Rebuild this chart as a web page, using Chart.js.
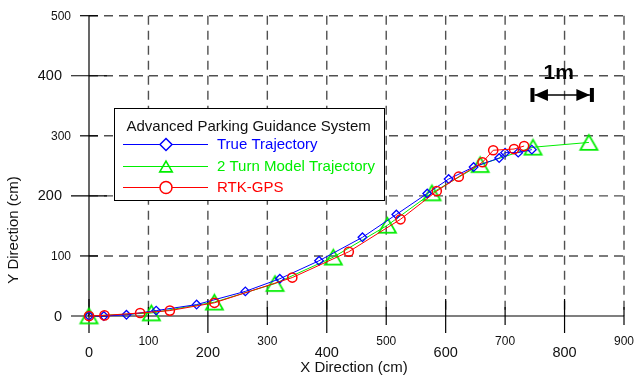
<!DOCTYPE html>
<html>
<head>
<meta charset="utf-8">
<style>
  html, body { margin: 0; padding: 0; background: #ffffff; }
  #wrap { width: 634px; height: 378px; position: relative; }
</style>
<script src="https://cdn.jsdelivr.net/npm/chart.js@4.4.1/dist/chart.umd.min.js"></script>
</head>
<body>
<div id="wrap"><canvas id="c" width="634" height="378"></canvas></div>
<script>
// Measured trajectories, X / Y in centimetres
const trueX  = [0, 25, 63, 113, 181, 263, 321, 387, 460, 517, 569, 605, 647, 690, 700, 722, 745];
const trueY  = [0, 0, 2, 9, 19, 41, 62, 92, 131, 169, 204, 228, 248, 263, 272, 272, 277];
const modelX = [0, 105, 211, 313, 411, 502, 577, 658, 747, 841];
const modelY = [0, 5, 23, 54, 98, 151, 205, 252, 281, 289];
const rtkX   = [0, 26, 86, 136, 211, 342, 437, 524, 585, 622, 662, 680, 715, 732];
const rtkY   = [0, 1, 5, 9, 22, 64, 107, 161, 208, 232, 256, 276, 278, 283];

const seriesNames = ['True Trajectory', '2 Turn Model Trajectory', 'RTK-GPS'];
const legendTitle = 'Advanced Parking Guidance System';

// Axis ticks: every 100 cm, labels at 200 cm steps are the major ones
const xTicks = [0, 100, 200, 300, 400, 500, 600, 700, 800, 900];
const xTickLabels = ['0', '100', '200', '300', '400', '500', '600', '700', '800', '900'];
const yTicks = [0, 100, 200, 300, 400, 500];
const yTickLabels = ['0', '100', '200', '300', '400', '500'];
const xTitle = 'X Direction (cm)';
const yTitle = 'Y Direction (cm)';

// 1 m scale bar
const scaleBarStart = 746;
const scaleBarLength = 100;
const scaleBarY = 368;
const scaleBarLabel = '1m';

const FONT = '"Liberation Sans", Arial, Helvetica, sans-serif';
const BLUE = '#0000ff', GREEN = '#00ee00', RED = '#ff0000';

const zip = (xs, ys) => xs.map((x, i) => ({ x: x, y: ys[i] }));

function triangleImage(side, lw, color) {
  const h = side * Math.sqrt(3) / 2;
  const c = document.createElement('canvas');
  c.width = Math.ceil(side + lw * 2 + 2);
  c.height = Math.ceil(h + lw * 2 + 2);
  const g = c.getContext('2d');
  const cx = c.width / 2, cy = c.height / 2;
  g.beginPath();
  g.moveTo(cx, cy - h / 2);
  g.lineTo(cx + side / 2, cy + h / 2);
  g.lineTo(cx - side / 2, cy + h / 2);
  g.closePath();
  g.strokeStyle = color;
  g.lineWidth = lw;
  g.stroke();
  return c;
}

const plotTriangle = triangleImage(17, 1.8, GREEN);
const legendTriangle = triangleImage(12.5, 1.6, GREEN);

function seg(ctx, x1, y1, x2, y2) {
  ctx.beginPath();
  ctx.moveTo(x1, y1);
  ctx.lineTo(x2, y2);
  ctx.stroke();
}

const axesPlugin = {
  id: 'axesAndLegend',
  beforeDatasetsDraw(chart) {
    const { ctx, chartArea: a, scales: { x, y } } = chart;
    const x0 = x.getPixelForValue(0);
    const y0 = y.getPixelForValue(0);
    ctx.save();

    // dashed grid
    ctx.strokeStyle = '#505050';
    ctx.lineWidth = 1.4;
    ctx.setLineDash([9, 6]);
    xTicks.forEach(v => {
      if (v === 0) return;
      const px = x.getPixelForValue(v);
      seg(ctx, px, a.top, px, a.bottom);
    });
    yTicks.forEach(v => {
      if (v === 0) return;
      const py = y.getPixelForValue(v);
      seg(ctx, a.left, py, a.right, py);
    });
    ctx.setLineDash([]);

    // axis lines and tick marks
    ctx.strokeStyle = '#000';
    ctx.lineWidth = 1.2;
    seg(ctx, x0, a.top, x0, y0);
    seg(ctx, x0, y0, a.right, y0);
    xTicks.forEach(v => {
      const px = x.getPixelForValue(v);
      const len = v % 200 === 0 ? 17 : 9;
      seg(ctx, px, y0 - len, px, y0 + len);
    });
    yTicks.forEach(v => {
      const py = y.getPixelForValue(v);
      const len = v % 200 === 0 ? 18 : 9;
      seg(ctx, x0 - len, py, x0 + len, py);
    });

    // tick labels
    ctx.fillStyle = '#111';
    ctx.textBaseline = 'middle';
    ctx.textAlign = 'center';
    xTicks.forEach((v, i) => {
      const px = x.getPixelForValue(v);
      const major = v % 200 === 0;
      ctx.font = (major ? 14.5 : 12) + 'px ' + FONT;
      ctx.fillText(xTickLabels[i], px, major ? 352.5 : 342);
    });
    ctx.textAlign = 'right';
    yTicks.forEach((v, i) => {
      const py = y.getPixelForValue(v);
      const major = v % 200 === 0;
      ctx.font = (major ? 14.5 : 12) + 'px ' + FONT;
      ctx.fillText(yTickLabels[i], major ? 62 : 71, py + 0.5);
    });

    // axis titles
    ctx.font = '15px ' + FONT;
    ctx.textAlign = 'center';
    ctx.fillText(xTitle, 354, 367.5);
    ctx.save();
    ctx.translate(14, 230);
    ctx.rotate(-Math.PI / 2);
    ctx.fillText(yTitle, 0, 0);
    ctx.restore();

    // legend box
    const bx = 114.5, by = 108.5, bw = 270, bh = 92;
    ctx.fillStyle = '#fff';
    ctx.fillRect(bx, by, bw, bh);
    ctx.strokeStyle = '#000';
    ctx.lineWidth = 1;
    ctx.strokeRect(bx, by, bw, bh);
    ctx.fillStyle = '#111';
    ctx.textAlign = 'left';
    ctx.font = '15px ' + FONT;
    ctx.fillText(legendTitle, 126.5, 126.5);

    const rows = [144.5, 166.5, 187.5];
    const colors = [BLUE, GREEN, RED];
    rows.forEach((ry, i) => {
      ctx.strokeStyle = colors[i];
      ctx.lineWidth = 1;
      seg(ctx, 123, ry, 208, ry);
      ctx.lineWidth = 1.5;
      if (i === 0) {
        const r = 6;
        ctx.fillStyle = '#fff';
        ctx.beginPath();
        ctx.moveTo(166, ry - r); ctx.lineTo(166 + r, ry);
        ctx.lineTo(166, ry + r); ctx.lineTo(166 - r, ry);
        ctx.closePath();
        ctx.fill(); ctx.stroke();
      } else if (i === 1) {
        ctx.fillStyle = '#fff';
        ctx.drawImage(legendTriangle, 166 - legendTriangle.width / 2, ry - legendTriangle.height / 2);
      } else {
        ctx.fillStyle = '#fff';
        ctx.beginPath();
        ctx.arc(166, ry, 6, 0, Math.PI * 2);
        ctx.fill(); ctx.stroke();
      }
      ctx.fillStyle = colors[i];
      ctx.font = '15px ' + FONT;
      ctx.fillText(seriesNames[i], 217, ry + 0.5);
    });

    ctx.restore();
  },
  afterDraw(chart) {
    const { ctx, scales: { x, y } } = chart;
    const x1 = x.getPixelForValue(scaleBarStart);
    const x2 = x.getPixelForValue(scaleBarStart + scaleBarLength);
    const yc = y.getPixelForValue(scaleBarY);
    ctx.save();
    ctx.fillStyle = '#000';
    ctx.strokeStyle = '#000';
    // end bars
    ctx.fillRect(x1 - 2, yc - 7, 4, 14);
    ctx.fillRect(x2 - 2, yc - 7, 4, 14);
    // shaft
    ctx.lineWidth = 1.5;
    seg(ctx, x1 + 2, yc, x2 - 2, yc);
    // arrow heads
    ctx.beginPath();
    ctx.moveTo(x1 + 2, yc); ctx.lineTo(x1 + 15.5, yc - 6); ctx.lineTo(x1 + 15.5, yc + 6);
    ctx.closePath(); ctx.fill();
    ctx.beginPath();
    ctx.moveTo(x2 - 2, yc); ctx.lineTo(x2 - 15.5, yc - 6); ctx.lineTo(x2 - 15.5, yc + 6);
    ctx.closePath(); ctx.fill();
    // label
    ctx.font = 'bold 21px ' + FONT;
    ctx.textAlign = 'center';
    ctx.textBaseline = 'alphabetic';
    ctx.fillText(scaleBarLabel, (x1 + x2) / 2 - 3.5, 78.5);
    ctx.restore();
  }
};

new Chart(document.getElementById('c'), {
  type: 'scatter',
  data: {
    datasets: [
      {
        label: seriesNames[0],
        data: zip(trueX, trueY),
        showLine: true,
        borderColor: BLUE,
        borderWidth: 1,
        pointStyle: 'rectRot',
        pointRadius: 4.3,
        pointBorderWidth: 1.3,
        pointBorderColor: BLUE,
        pointBackgroundColor: 'rgba(255,255,255,0)',
        order: 1,
        clip: false
      },
      {
        label: seriesNames[1],
        data: zip(modelX, modelY),
        showLine: true,
        borderColor: GREEN,
        borderWidth: 1,
        pointStyle: plotTriangle,
        pointRadius: 9,
        order: 2,
        clip: false
      },
      {
        label: seriesNames[2],
        data: zip(rtkX, rtkY),
        showLine: true,
        borderColor: RED,
        borderWidth: 1,
        pointStyle: 'circle',
        pointRadius: 4.6,
        pointBorderWidth: 1.5,
        pointBorderColor: RED,
        pointBackgroundColor: 'rgba(255,255,255,0)',
        order: 0,
        clip: false
      }
    ]
  },
  options: {
    responsive: false,
    animation: false,
    devicePixelRatio: 1,
    layout: { padding: { left: 89, right: 8.5, top: 15.7, bottom: 62 } },
    scales: {
      x: { type: 'linear', min: 0, max: 900, display: false },
      y: { type: 'linear', min: 0, max: 500, display: false }
    },
    plugins: {
      legend: { display: false },
      tooltip: { enabled: false }
    }
  },
  plugins: [axesPlugin]
});
</script>
</body>
</html>
